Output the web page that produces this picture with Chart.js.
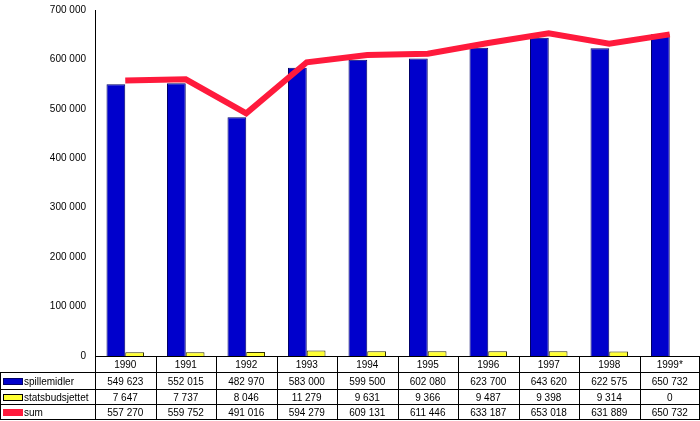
<!DOCTYPE html>
<html><head><meta charset="utf-8">
<script src="https://cdn.jsdelivr.net/npm/chart.js@4"></script>
<style>html,body{margin:0;padding:0;background:#fff}#w{width:700px;height:421px}</style>
</head><body><div id="w"><canvas id="c"></canvas></div>
<script>
const categories=['1990','1991','1992','1993','1994','1995','1996','1997','1998','1999*'];
const spillemidler=[549623,552015,482970,583000,599500,602080,623700,643620,622575,650732];
const statsbudsjettet=[7647,7737,8046,11279,9631,9366,9487,9398,9314,0];
const sum=[557270,559752,491016,594279,609131,611446,633187,653018,631889,650732];
const seriesNames=['spillemidler','statsbudsjettet','sum'];
const fmt=v=>String(v).replace(/\B(?=(\d{3})+(?!\d))/g,' ');
const F='10px "Liberation Sans", Arial, sans-serif';
const tablePlugin={id:'tbl',afterDraw(ch){
 const ctx=ch.ctx,x=ch.scales.x,a=ch.chartArea;
 const L=a.left,R=a.right,n=categories.length,cw=(R-L)/n;
 const rows=[356,373,390,405,420];
 ctx.save();ctx.strokeStyle='#000';ctx.lineWidth=1;ctx.font=F;ctx.fillStyle='#000';
 ctx.textAlign='center';ctx.textBaseline='middle';
 ctx.beginPath();
 for(let i=0;i<=n;i++){const xx=Math.round(L+i*cw)+0.5;ctx.moveTo(xx,rows[0]);ctx.lineTo(xx,rows[4]);}
 ctx.moveTo(L,rows[0]+0.5);ctx.lineTo(R,rows[0]+0.5);
 for(let r=1;r<5;r++){ctx.moveTo(0,rows[r]-0.5);ctx.lineTo(R,rows[r]-0.5);}
 ctx.moveTo(0.5,rows[1]);ctx.lineTo(0.5,rows[4]);
 ctx.moveTo(R-0.5,rows[0]);ctx.lineTo(R-0.5,rows[4]);
 ctx.stroke();
 const data=[spillemidler,statsbudsjettet,sum];
 categories.forEach((c,i)=>{const cx=x.getPixelForValue(i);
  ctx.fillText(c,cx,(rows[0]+rows[1])/2+1);
  data.forEach((d,r)=>ctx.fillText(fmt(d[i]),cx,(rows[r+1]+rows[r+2])/2+1));});
 ctx.textAlign='left';
 const cols=[['#0000CC','#000066'],['#FFFF33','#000'],['#FF1A3C','#FF1A3C']];
 seriesNames.forEach((s,r)=>{const cy=(rows[r+1]+rows[r+2])/2;
  ctx.fillStyle=cols[r][0];ctx.fillRect(3,cy-3.5,20,7);
  if(r<2){ctx.strokeStyle=cols[r][1];ctx.strokeRect(3.5,cy-3,19,6);}
  ctx.fillStyle='#000';ctx.fillText(s,24,cy+1);});
 ctx.restore();}};
new Chart(document.getElementById('c'),{
 data:{labels:categories,datasets:[
  {type:'line',label:seriesNames[2],data:sum,borderColor:'#FF1A3C',borderWidth:6,pointRadius:0,tension:0,order:0},
  {type:'bar',label:seriesNames[0],data:spillemidler,backgroundColor:'#0000CC',borderColor:'#000066',borderWidth:1,categoryPercentage:0.62,barPercentage:1,order:1},
  {type:'bar',label:seriesNames[1],data:statsbudsjettet,backgroundColor:'#FFFF33',borderColor:'#333300',borderWidth:1,categoryPercentage:0.62,barPercentage:1,order:1}]},
 options:{responsive:true,maintainAspectRatio:false,animation:false,
  layout:{padding:{top:5,right:0,bottom:65,left:0}},
  plugins:{legend:{display:false},tooltip:{enabled:false}},
  scales:{
   x:{grid:{display:false,drawTicks:false},border:{color:'#000'},ticks:{display:false}},
   y:{min:0,max:700000,afterFit:s=>{s.width=95;},
    grid:{display:false,drawTicks:true,tickLength:5},border:{color:'#000'},
    ticks:{stepSize:100000,color:'#000',font:{family:'"Liberation Sans", Arial',size:10},padding:4,callback:v=>fmt(v)}}}},
 plugins:[tablePlugin]});
</script></body></html>
